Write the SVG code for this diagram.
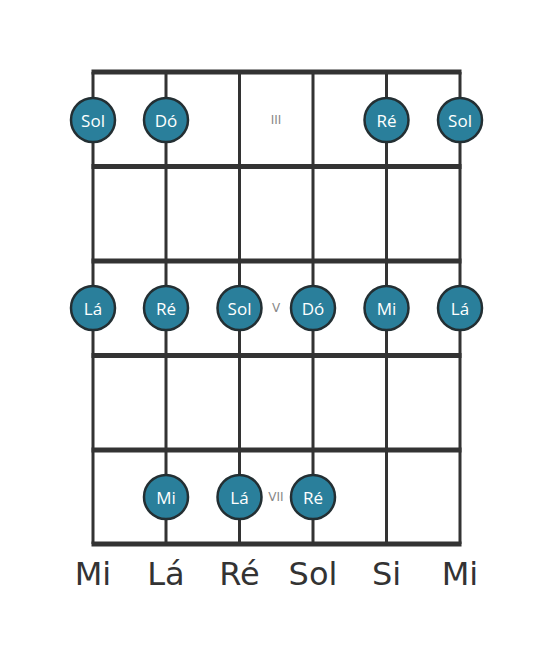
<svg xmlns="http://www.w3.org/2000/svg" width="553" height="656" viewBox="0 0 553 656">
<style>
.fret{stroke:#333;stroke-width:5}
.str{stroke:#333;stroke-width:3}
.note circle{fill:#2a7f9b;stroke:#232f33;stroke-width:2.5}
.note text{fill:#fff;font-family:"Open Sans","DejaVu Sans",sans-serif;font-size:17px;text-anchor:middle;dominant-baseline:central}
.fn{fill:#888;font-family:"DejaVu Sans",sans-serif;font-size:12px;text-anchor:middle;dominant-baseline:central}
.sl{fill:#333;font-family:"DejaVu Sans",sans-serif;font-size:32px;text-anchor:middle}
</style>
<rect width="553" height="656" fill="#fff"/>
<g id="connectors">
<line class="str" x1="93" y1="72" x2="93" y2="544"/>
<line class="str" x1="166" y1="72" x2="166" y2="544"/>
<line class="str" x1="239.5" y1="72" x2="239.5" y2="544"/>
<line class="str" x1="313" y1="72" x2="313" y2="544"/>
<line class="str" x1="386.5" y1="72" x2="386.5" y2="544"/>
<line class="str" x1="460" y1="72" x2="460" y2="544"/>
<line class="fret" x1="91.5" y1="72" x2="461.5" y2="72"/>
<line class="fret" x1="91.5" y1="166.5" x2="461.5" y2="166.5"/>
<line class="fret" x1="91.5" y1="261" x2="461.5" y2="261"/>
<line class="fret" x1="91.5" y1="355.5" x2="461.5" y2="355.5"/>
<line class="fret" x1="91.5" y1="450" x2="461.5" y2="450"/>
<line class="fret" x1="91.5" y1="544" x2="461.5" y2="544"/>
</g>
<g id="fret-numbers">
<text class="fn" x="276" y="120">III</text>
<text class="fn" x="276" y="308">V</text>
<text class="fn" x="276" y="497">VII</text>
</g>
<g id="n1" class="note"><circle cx="93" cy="120" r="22"/><text x="93" y="120">Sol</text></g>
<g id="n2" class="note"><circle cx="166" cy="120" r="22"/><text x="166" y="120">Dó</text></g>
<g id="n3" class="note"><circle cx="386.5" cy="120" r="22"/><text x="386.5" y="120">Ré</text></g>
<g id="n4" class="note"><circle cx="460" cy="120" r="22"/><text x="460" y="120">Sol</text></g>
<g id="n5" class="note"><circle cx="93" cy="308" r="22"/><text x="93" y="308">Lá</text></g>
<g id="n6" class="note"><circle cx="166" cy="308" r="22"/><text x="166" y="308">Ré</text></g>
<g id="n7" class="note"><circle cx="239.5" cy="308" r="22"/><text x="239.5" y="308">Sol</text></g>
<g id="n8" class="note"><circle cx="313" cy="308" r="22"/><text x="313" y="308">Dó</text></g>
<g id="n9" class="note"><circle cx="386.5" cy="308" r="22"/><text x="386.5" y="308">Mi</text></g>
<g id="n10" class="note"><circle cx="460" cy="308" r="22"/><text x="460" y="308">Lá</text></g>
<g id="n11" class="note"><circle cx="166" cy="497" r="22"/><text x="166" y="497">Mi</text></g>
<g id="n12" class="note"><circle cx="239.5" cy="497" r="22"/><text x="239.5" y="497">Lá</text></g>
<g id="n13" class="note"><circle cx="313" cy="497" r="22"/><text x="313" y="497">Ré</text></g>
<g id="string-labels">
<text class="sl" x="93" y="585">Mi</text>
<text class="sl" x="166" y="585">Lá</text>
<text class="sl" x="239.5" y="585">Ré</text>
<text class="sl" x="313" y="585">Sol</text>
<text class="sl" x="386.5" y="585">Si</text>
<text class="sl" x="460" y="585">Mi</text>
</g>
</svg>
